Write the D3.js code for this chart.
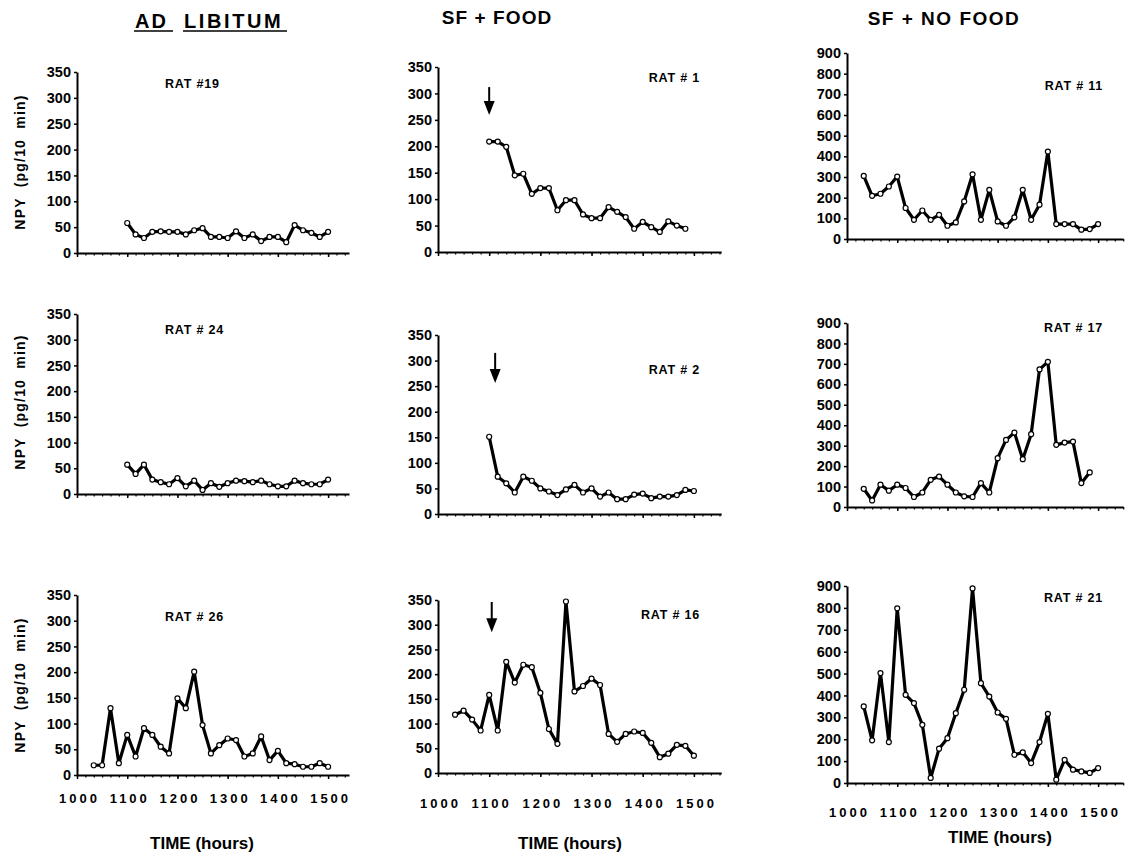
<!DOCTYPE html>
<html>
<head>
<meta charset="utf-8">
<script src="https://cdn.jsdelivr.net/npm/d3@7"></script>
<style>
  body { margin: 0; background: #fff; }
  svg text { font-family: Arial, "Liberation Sans", Helvetica, sans-serif; font-weight: bold; fill: #000; }
</style>
</head>
<body>
<svg id="chart" width="1135" height="854"></svg>
<script>
// ---------------- DATA ----------------
const columnTitles = ["AD LIBITUM", "SF + FOOD", "SF + NO FOOD"];
const xTickLabels = ["1000", "1100", "1200", "1300", "1400", "1500"];
const yTicksLow = [0, 50, 100, 150, 200, 250, 300, 350];
const yTicksHigh = [0, 100, 200, 300, 400, 500, 600, 700, 800, 900];

const times1100to1500 = ["1100","1110","1120","1130","1140","1150","1200","1210","1220","1230","1240","1250","1300","1310","1320","1330","1340","1350","1400","1410","1420","1430","1440","1450","1500"];
const times1100to1450 = ["1100","1110","1120","1130","1140","1150","1200","1210","1220","1230","1240","1250","1300","1310","1320","1330","1340","1350","1400","1410","1420","1430","1440","1450"];
const times1020to1500 = ["1020","1030","1040","1050","1100","1110","1120","1130","1140","1150","1200","1210","1220","1230","1240","1250","1300","1310","1320","1330","1340","1350","1400","1410","1420","1430","1440","1450","1500"];
const times1020to1450 = ["1020","1030","1040","1050","1100","1110","1120","1130","1140","1150","1200","1210","1220","1230","1240","1250","1300","1310","1320","1330","1340","1350","1400","1410","1420","1430","1440","1450"];

// NPY (pg/10 min)
const rat19 = [58,36,29,41,42,41,41,36,44,48,31,31,29,42,29,36,23,31,31,21,54,44,39,31,41];
const rat1  = [209,209,199,145,148,110,121,121,79,98,98,71,64,64,85,76,66,44,57,47,38,58,50,44];
const rat11 = [305,209,219,254,302,150,93,138,93,117,64,80,182,313,93,238,85,64,105,238,93,166,423,72,72,72,45,48,72];
const rat24 = [57,39,57,28,23,19,31,15,26,8,21,14,21,26,25,23,26,19,15,15,26,21,19,19,28];
const rat2  = [151,73,60,42,73,65,50,44,37,48,57,42,50,34,42,29,29,38,40,31,34,34,37,47,45];
const rat17 = [89,32,109,80,109,93,49,71,133,149,109,71,52,49,117,71,239,328,364,234,356,673,710,304,315,320,117,169];
const rat26 = [19,19,130,23,78,36,91,78,55,42,149,130,201,97,42,58,71,68,36,42,75,29,47,23,21,16,16,23,16];
const rat16 = [118,126,108,86,158,86,225,183,219,214,162,89,59,347,165,176,191,178,79,63,79,84,81,61,32,39,57,55,35];
const rat21 = [350,195,502,187,798,403,365,266,23,157,205,319,426,889,456,395,322,293,129,140,91,187,316,15,106,61,53,46,68];

const panels = [
  { name: "RAT #19",  times: times1100to1500, values: rat19, col: 0, row: 0, yMax: 350, arrow: null },
  { name: "RAT # 1",  times: times1100to1450, values: rat1,  col: 1, row: 0, yMax: 350, arrow: { t: "1100", from: 312, to: 259 } },
  { name: "RAT # 11", times: times1020to1500, values: rat11, col: 2, row: 0, yMax: 900, arrow: null },
  { name: "RAT # 24", times: times1100to1500, values: rat24, col: 0, row: 1, yMax: 350, arrow: null },
  { name: "RAT # 2",  times: times1100to1500, values: rat2,  col: 1, row: 1, yMax: 350, arrow: { t: "1107", from: 315, to: 256 } },
  { name: "RAT # 17", times: times1020to1450, values: rat17, col: 2, row: 1, yMax: 900, arrow: null },
  { name: "RAT # 26", times: times1020to1500, values: rat26, col: 0, row: 2, yMax: 350, arrow: null },
  { name: "RAT # 16", times: times1020to1500, values: rat16, col: 1, row: 2, yMax: 350, arrow: { t: "1103", from: 346, to: 285 } },
  { name: "RAT # 21", times: times1020to1500, values: rat21, col: 2, row: 2, yMax: 900, arrow: null }
];

// ---------------- LAYOUT ----------------
const colLayout = [
  { x0: 77,  k: 0.837, endMin: 325, ratX: 165 },
  { x0: 438, k: 0.853, endMin: 332, ratX: 700 },
  { x0: 847, k: 0.837, endMin: 330, ratX: 1103 }
];
const panelLayout = [
  { y0: 253, yTop: 72,  ratY: 88 },
  { y0: 252, yTop: 67,  ratY: 82 },
  { y0: 239, yTop: 53,  ratY: 90 },
  { y0: 494, yTop: 314, ratY: 334 },
  { y0: 514, yTop: 335, ratY: 374 },
  { y0: 507, yTop: 323, ratY: 332 },
  { y0: 775, yTop: 595, ratY: 621 },
  { y0: 773, yTop: 600, ratY: 619 },
  { y0: 783, yTop: 586, ratY: 602 }
];
const xLabelY = [803, 808, 817];
const timeTitle = [{ x: 202, y: 849 }, { x: 570, y: 849 }, { x: 1000, y: 843 }];
const yLabelCenter = [162, 402, 685];

const svg = d3.select("#chart");

function toMin(t) { const n = +t; return Math.floor(n / 100) * 60 + (n % 100) - 600; }

// Column titles
svg.append("text").attr("x", 135).attr("y", 28).attr("font-size", 20).attr("letter-spacing", 2).text("AD");
svg.append("text").attr("x", 184).attr("y", 28).attr("font-size", 20).attr("letter-spacing", 2.6).text("LIBITUM");
svg.append("line").attr("x1", 134).attr("x2", 173).attr("y1", 31).attr("y2", 31).attr("stroke", "#000").attr("stroke-width", 1.6);
svg.append("line").attr("x1", 183).attr("x2", 287).attr("y1", 31).attr("y2", 31).attr("stroke", "#000").attr("stroke-width", 1.6);
svg.append("text").attr("x", 497).attr("y", 24).attr("text-anchor", "middle").attr("font-size", 19).attr("letter-spacing", 1.1).text(columnTitles[1]);
svg.append("text").attr("x", 944).attr("y", 25).attr("text-anchor", "middle").attr("font-size", 19).attr("letter-spacing", 1.5).text(columnTitles[2]);

panels.forEach((p, i) => {
  const cl = colLayout[p.col];
  const pl = panelLayout[i];
  const x = d3.scaleLinear().domain([0, cl.endMin]).range([cl.x0, cl.x0 + cl.endMin * cl.k]);
  const y = d3.scaleLinear().domain([0, p.yMax]).range([pl.y0, pl.yTop]);
  const g = svg.append("g");

  const minorVals = d3.range(0, cl.endMin + 1, 10);
  const majorVals = xTickLabels.map(toMin);
  const gxMinor = g.append("g").attr("transform", `translate(0,${pl.y0})`)
    .call(d3.axisBottom(x).tickValues(minorVals).tickSize(2.5).tickSizeOuter(0).tickFormat(""));
  gxMinor.select(".domain").attr("stroke-width", 2);
  gxMinor.selectAll(".tick line").attr("stroke-width", 1.2);
  const gxMajor = g.append("g").attr("transform", `translate(0,${pl.y0})`)
    .call(d3.axisBottom(x).tickValues(majorVals).tickSize(4).tickSizeOuter(0)
      .tickFormat((d, j) => p.row === 2 ? xTickLabels[j] : ""));
  gxMajor.select(".domain").remove();
  gxMajor.selectAll(".tick line").attr("stroke-width", 1.5);
  gxMajor.selectAll(".tick text")
    .attr("font-size", 13).attr("letter-spacing", 3).attr("dx", 2)
    .attr("y", xLabelY[p.col] - pl.y0).attr("dy", 0);

  const gy = g.append("g").attr("transform", `translate(${cl.x0},0)`)
    .call(d3.axisLeft(y).tickValues(p.yMax === 350 ? yTicksLow : yTicksHigh).tickSize(3).tickSizeOuter(0).tickPadding(3));
  gy.select(".domain").attr("stroke-width", 2);
  gy.selectAll(".tick line").attr("stroke-width", 1.5);
  gy.selectAll(".tick text").attr("font-size", 14.5);

  const pts = p.times.map((t, j) => ({ m: toMin(t), v: p.values[j] }));
  g.append("path").datum(pts)
    .attr("fill", "none").attr("stroke", "#000").attr("stroke-width", 3.2).attr("stroke-linejoin", "round")
    .attr("d", d3.line().x(d => x(d.m)).y(d => y(d.v)));
  g.selectAll("circle").data(pts).join("circle")
    .attr("cx", d => x(d.m)).attr("cy", d => y(d.v)).attr("r", 2.5)
    .attr("fill", "#fff").attr("stroke", "#000").attr("stroke-width", 1.2);

  g.append("text").attr("x", cl.ratX).attr("y", pl.ratY).attr("text-anchor", p.col === 0 ? "start" : "end")
    .attr("font-size", 12.5).attr("letter-spacing", 0.8).text(p.name);

  if (p.arrow) {
    const ax = x(toMin(p.arrow.t));
    const yA = y(p.arrow.from), yB = y(p.arrow.to);
    g.append("line").attr("x1", ax).attr("x2", ax).attr("y1", yA).attr("y2", yB - 12)
      .attr("stroke", "#000").attr("stroke-width", 2);
    g.append("path").attr("d", `M${ax - 5.5},${yB - 14} L${ax + 5.5},${yB - 14} L${ax},${yB} Z`).attr("fill", "#000");
  }
});

yLabelCenter.forEach(cy => {
  svg.append("text").attr("transform", `translate(25,${cy}) rotate(-90)`)
    .attr("text-anchor", "middle").attr("font-size", 14).attr("letter-spacing", 1.2)
    .attr("xml:space", "preserve").style("white-space", "pre")
    .text("NPY  (pg/10  min)");
});

timeTitle.forEach(tt => {
  svg.append("text").attr("x", tt.x).attr("y", tt.y).attr("text-anchor", "middle")
    .attr("font-size", 17).text("TIME (hours)");
});
</script>
</body>
</html>
